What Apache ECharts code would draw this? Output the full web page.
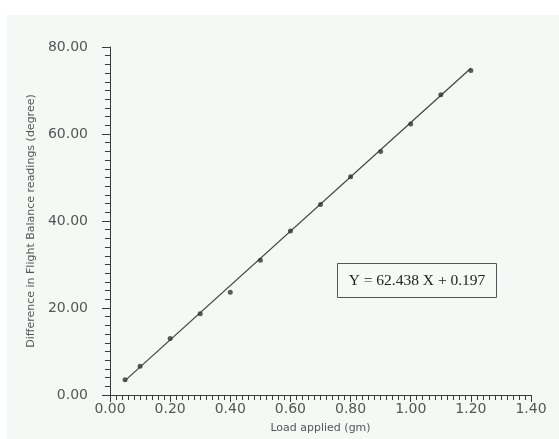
<!DOCTYPE html>
<html>
<head>
<meta charset="utf-8">
<script src="https://cdn.jsdelivr.net/npm/echarts@6/dist/echarts.min.js"></script>
<style>
  html, body { margin: 0; padding: 0; background: #ffffff; }
  #chart {
    position: absolute;
    left: 7px;
    top: 15px;
    width: 552px;
    height: 424px;
    background: #f4f9f6;
  }
</style>
</head>
<body>
<div id="chart"></div>
<script>
// measured points (load in gm, difference in degrees)
const loadApplied = [0.05, 0.10, 0.20, 0.30, 0.40, 0.50, 0.60, 0.70, 0.80, 0.90, 1.00, 1.10, 1.20];
const balanceDiff = [3.5, 6.6, 13.0, 18.7, 23.6, 31.0, 37.7, 43.8, 50.2, 56.0, 62.3, 69.0, 74.6];

// regression line ends
const fitX = [0.05, 1.20];
const fitY = [3.3, 75.1];
const fitLabel = "Y = 62.438 X + 0.197";

const xTicks = { min: 0, max: 1.4, interval: 0.2 };
const yTicks = { min: 0, max: 80, interval: 20 };

const axisColor = "#3a3a3a";
const labelColor = "#555555";
const fontFamily = "'DejaVu Sans', sans-serif";

const chart = echarts.init(document.getElementById("chart"));

chart.setOption({
  backgroundColor: "transparent",
  animation: false,
  grid: { left: 103, right: 28, top: 32, bottom: 41 },
  xAxis: {
    type: "value",
    min: xTicks.min,
    max: xTicks.max,
    interval: xTicks.interval,
    name: "Load applied (gm)",
    nameLocation: "middle",
    nameGap: 28,
    nameTextStyle: { color: labelColor, fontSize: 11, fontFamily },
    axisLine: { show: true, lineStyle: { color: axisColor, width: 1 } },
    axisTick: { show: true, length: 7, lineStyle: { color: axisColor } },
    minorTick: { show: true, splitNumber: 10, length: 5, lineStyle: { color: axisColor } },
    axisLabel: {
      color: labelColor,
      fontSize: 14,
      fontFamily,
      margin: 7,
      formatter: (v) => v.toFixed(2),
    },
    splitLine: { show: false },
  },
  yAxis: {
    type: "value",
    min: yTicks.min,
    max: yTicks.max,
    interval: yTicks.interval,
    name: "Difference in Flight Balance readings (degree)",
    nameLocation: "middle",
    nameGap: 70,
    nameTextStyle: { color: labelColor, fontSize: 11, fontFamily },
    axisLine: { show: true, lineStyle: { color: axisColor, width: 1 } },
    axisTick: { show: true, length: 8, lineStyle: { color: axisColor } },
    minorTick: { show: true, splitNumber: 10, length: 5, lineStyle: { color: axisColor } },
    axisLabel: {
      color: labelColor,
      fontSize: 14,
      fontFamily,
      margin: 22,
      formatter: (v) => v.toFixed(2),
    },
    splitLine: { show: false },
  },
  graphic: [
    {
      type: "group",
      left: 330,
      top: 248,
      children: [
        {
          type: "rect",
          shape: { x: 0, y: 0, width: 159, height: 34 },
          style: { fill: "#f6faf7", stroke: "#555555", lineWidth: 1 },
        },
        {
          type: "text",
          x: 79.5,
          y: 17,
          style: {
            text: fitLabel,
            fill: "#222222",
            font: "15.5px 'Liberation Serif', serif",
            align: "center",
            verticalAlign: "middle",
          },
        },
      ],
    },
  ],
  series: [
    {
      name: "fit",
      type: "line",
      data: fitX.map((x, i) => [x, fitY[i]]),
      symbol: "none",
      lineStyle: { color: "#404040", width: 1.2 },
      silent: true,
      z: 2,
    },
    {
      name: "readings",
      type: "scatter",
      data: loadApplied.map((x, i) => [x, balanceDiff[i]]),
      symbol: "circle",
      symbolSize: 5,
      itemStyle: { color: "#333333" },
      z: 3,
    },
  ],
});
</script>
</body>
</html>
